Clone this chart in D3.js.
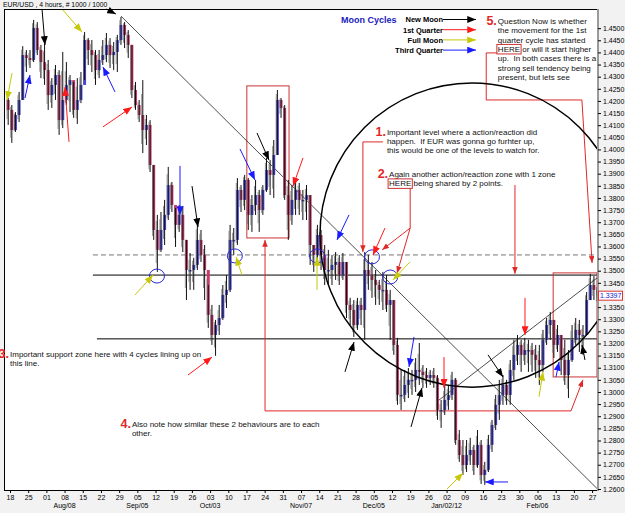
<!DOCTYPE html>
<html>
<head>
<meta charset="utf-8">
<script src="https://cdn.jsdelivr.net/npm/d3@7"></script>
<style>
  html, body { margin: 0; padding: 0; background: #f2f2f2; }
  svg { display: block; font-family: "Liberation Sans", Arial, sans-serif; }
  .note { white-space: pre; }
</style>
</head>
<body>
<div id="chart"></div>
<script>
// EUR/USD read back as one candle per trading day, Fri Jul 15 2011 .. Tue Feb 28 2012
// index 0 = Jul 15, index 1 = Mon Jul 18 (day 0 on the x scale)
const firstOpen = 1.4204

const highs = [1.4212,
  1.4183,1.4154,1.4237,1.4426,1.4410,  1.4410,1.4534,1.4525,1.4431,1.4435,
  1.4369,1.4294,1.4348,1.4327,1.4402,  1.4360,1.4307,1.4278,1.4294,1.4319,
  1.4484,1.4459,1.4451,1.4410,1.4410,  1.4451,1.4480,1.4459,1.4443,1.4472,
  1.4546,1.4525,1.4492,1.4431,1.4278,  1.4204,1.4286,1.4142,1.4121,1.3936,
  1.3730,1.3742,1.3792,1.3928,1.3866,  1.3759,1.3771,1.3767,1.3627,1.3573,
  1.3553,1.3701,1.3668,1.3606,1.3441,  1.3359,1.3297,1.3359,1.3441,1.3482,
  1.3689,1.3676,1.3882,1.3853,1.3895,  1.3882,1.3812,1.3874,1.3833,1.3853,
  1.3965,1.3956,1.4039,1.4245,1.4212,  1.4183,1.3874,1.3853,1.3874,1.3862,
  1.3833,1.3853,1.3812,1.3606,1.3689,  1.3668,1.3606,1.3586,1.3565,1.3577,
  1.3565,1.3573,1.3536,1.3388,1.3379,  1.3388,1.3388,1.3577,1.3565,1.3536,
  1.3503,1.3462,1.3495,1.3482,1.3421,  1.3379,1.3223,1.3091,1.3091,1.3099,
  1.3091,1.3140,1.3202,1.3111,1.3099,  1.3091,1.3099,1.3070,1.2967,1.3029,
  1.3029,1.3083,1.3058,1.2843,1.2802,  1.2802,1.2811,1.2782,1.2843,1.2802,
  1.2712,1.2823,1.2885,1.2988,1.3050,  1.3070,1.3050,1.3132,1.3215,1.3235,
  1.3215,1.3223,1.3215,1.3202,1.3194,  1.3194,1.3256,1.3305,1.3330,1.3297,
  1.3276,1.3235,1.3215,1.3173,1.3276,  1.3305,1.3297,1.3276,1.3412,1.3487,
  1.3478,1.3441]

const lows = [1.4101,
  1.4027,1.4072,1.4113,1.4204,1.4319,  1.4336,1.4360,1.4389,1.4294,1.4266,
  1.4163,1.4171,1.4204,1.4060,1.4088,  1.4183,1.4154,1.4130,1.4105,1.4191,
  1.4286,1.4348,1.4319,1.4266,1.4294,  1.4348,1.4360,1.4336,1.4327,1.4319,
  1.4431,1.4418,1.4377,1.4212,1.4163,  1.4113,1.3985,1.4018,1.3907,1.3627,
  1.3495,1.3577,1.3606,1.3709,1.3742,  1.3598,1.3660,1.3577,1.3379,1.3421,
  1.3421,1.3503,1.3536,1.3379,1.3264,  1.3194,1.3149,1.3235,1.3297,1.3346,
  1.3412,1.3565,1.3606,1.3742,1.3750,  1.3668,1.3660,1.3730,1.3660,1.3730,
  1.3825,1.3812,1.3800,1.3977,1.4130,  1.3792,1.3627,1.3689,1.3730,1.3730,
  1.3709,1.3709,1.3524,1.3495,1.3536,  1.3503,1.3441,1.3441,1.3441,1.3462,
  1.3441,1.3462,1.3305,1.3276,1.3227,  1.3256,1.3276,1.3215,1.3421,1.3388,
  1.3359,1.3359,1.3338,1.3330,1.3215,  1.3153,1.2947,1.2926,1.2959,1.2975,
  1.2988,1.3000,1.3029,1.3017,1.3017,  1.3029,1.3017,1.2885,1.2852,1.2905,
  1.2926,1.2967,1.2782,1.2712,1.2658,  1.2670,1.2699,1.2658,1.2687,1.2621,
  1.2617,1.2670,1.2753,1.2843,1.2885,  1.2947,1.2947,1.2947,1.3050,1.3111,
  1.3083,1.3111,1.3083,1.3083,1.3058,  1.3029,1.3083,1.3194,1.3215,1.3140,
  1.3165,1.3070,1.3029,1.2975,1.3124,  1.3194,1.3165,1.3153,1.3235,1.3379,
  1.3379,1.3359]

const closes = [1.4163,
  1.4080,1.4142,1.4204,1.4389,1.4377,  1.4369,1.4501,1.4410,1.4360,1.4327,
  1.4224,1.4266,1.4307,1.4121,1.4204,  1.4266,1.4286,1.4163,1.4204,1.4266,
  1.4451,1.4410,1.4389,1.4327,1.4369,  1.4389,1.4431,1.4389,1.4402,1.4451,
  1.4513,1.4472,1.4431,1.4245,1.4183,  1.4142,1.4080,1.4101,1.3936,1.3668,
  1.3586,1.3668,1.3730,1.3853,1.3771,  1.3689,1.3730,1.3627,1.3503,1.3503,
  1.3524,1.3627,1.3565,1.3503,1.3318,  1.3235,1.3276,1.3305,1.3400,1.3421,
  1.3627,1.3627,1.3833,1.3792,1.3874,  1.3730,1.3771,1.3812,1.3750,1.3833,
  1.3915,1.3895,1.3977,1.4204,1.4171,  1.3812,1.3730,1.3792,1.3833,1.3792,
  1.3792,1.3812,1.3606,1.3565,1.3647,  1.3565,1.3503,1.3503,1.3524,1.3536,
  1.3482,1.3536,1.3359,1.3338,1.3276,  1.3359,1.3338,1.3503,1.3482,1.3462,
  1.3441,1.3421,1.3421,1.3359,1.3379,  1.3194,1.2988,1.2988,1.3029,1.3050,
  1.3050,1.3091,1.3083,1.3070,1.3058,  1.3070,1.3058,1.2926,1.2926,1.2967,
  1.2988,1.3050,1.2802,1.2740,1.2699,  1.2740,1.2761,1.2699,1.2782,1.2658,
  1.2679,1.2782,1.2864,1.2947,1.2988,  1.3029,1.2988,1.3091,1.3153,1.3194,
  1.3153,1.3173,1.3173,1.3153,1.3132,  1.3111,1.3215,1.3276,1.3297,1.3194,
  1.3235,1.3132,1.3070,1.3132,1.3215,  1.3256,1.3235,1.3235,1.3379,1.3441,
  1.3421,1.3397]

// x axis: one tick per Monday (every 5 trading days)
const weekLabels = ["18","25","01","08","15","22","29","05","12","19","26","03","10","17","24","31",
  "07","14","21","28","05","12","19","26","02","09","16","23","30","06","13","20","27"]
const monthLabels = ["Aug/08","Sep/05","Oct/03","Nov/07","Dec/05","Jan/02/12","Feb/06"]
const monthWeeks = [3, 7, 11, 16, 20, 24, 29]

// horizontal levels [price, first day]
const dashedLevels = [[1.3565, 22.8]]
const solidLevels = [[1.3482, 22.8], [1.3219, 23.9]]
// trend lines [day0, price0, day1, price1]
const trendLines = [[30.5, 1.4550, 161.35, 1.2602], [117.6, 1.2963, 161.35, 1.3470]]
// big cycle circle: centre day, centre price, radius in days, radius in price
const cycleCircle = [127.0, 1.3647, 41.8, 0.0627]
// small blue rings at the touch points
const ringCenters = [[40.4, 1.3478], [61.8, 1.3561], [84.4, 1.3561], [99.5, 1.3557], [104.5, 1.3474]]

// moon phase arrows [day0, price0, day1, price1], arrow head at the second point
const newMoonArrows = [[8.80,1.4579,9.62,1.4431],[26.4,1.4579,29.1,1.4558],[50.03,1.3849,51.68,1.3680],
  [67.89,1.4068,71.19,1.3956],[92.08,1.3083,94.56,1.3206],[110.23,1.2856,113.25,1.3017],
  [131.39,1.3153,135.51,1.3062],[158.05,1.3132,157.23,1.3194]]
const firstQuarterArrows = [[16.22,1.4031,15.12,1.4257],[25.56,1.4093,33.53,1.4175],[48.93,1.3070,55.53,1.3144],
  [80.54,1.3965,77.79,1.3849],[103.08,1.3676,99.78,1.3565],[119.30,1.3144,119.30,1.3017],
  [141.56,1.3388,141.56,1.3235]]
const fullMoonArrows = [[0.55,1.4315,-0.82,1.4204],[14.29,1.4579,19.79,1.4484],[34.36,1.3400,39.31,1.3482],
  [63.77,1.3482,62.12,1.3557],[84.39,1.3421,84.39,1.3557],[109.95,1.3536,105.28,1.3462],
  [120.12,1.2600,124.52,1.2666],[145.41,1.2980,146.51,1.3083]]
const thirdQuarterArrows = [[4.12,1.4212,5.50,1.4307],[28.86,1.4237,25.56,1.4340],[46.73,1.3932,46.73,1.3730],
  [63.22,1.4002,67.34,1.3874],[93.18,1.3730,89.88,1.3627],[111.05,1.3227,109.68,1.3103],
  [136.89,1.2629,130.57,1.2629],[150.08,1.3062,150.91,1.3124]]

// red boxes [day0, day1, priceTop, priceBottom]
const redBoxes = [[65.1, 76.7, 1.4262, 1.3635], [149.3, 161.35, 1.3491, 1.3062]]
// red connectors (arrow head at the last point)
const connectors = [
  [[133.9,1.4398],[130.9,1.4398],[130.9,1.4204],[157.2,1.4204],[160.0,1.3532]],
  [[102.5,1.4031],[97.0,1.4031],[97.0,1.3577]],
  [[110.0,1.3841],[110.0,1.3676],[102.3,1.3586]],
  [[110.0,1.3676],[106.4,1.3490]],
  [[138.8,1.3853],[138.8,1.3487]],
  [[70.1,1.2922],[70.1,1.3627]],
  [[70.1,1.2922],[154.2,1.2922],[157.5,1.3050]]
]

// notes: number, anchor [day, price of first baseline], lines
const noteNumbers = ["1.", "2.", "3.", "4.", "5."]
const noteAnchors = [[103.6, 1.4060], [104.2, 1.3886], [0, 1.3144], [33.5, 1.2856], [134.1, 1.4517]]
const noteLines = [
  ["Important level where a action/reaction did", "happen.  If EUR was gonna go furhter up,", "this would be one of the levels to watch for."],
  ["Again another action/reaction zone with 1 zone", "HERE being shared by 2 points."],
  ["Important support zone here with 4 cycles lining up on", "this line."],
  ["Also note how similar these 2 behaviours are to each", "other."],
  ["Question Now is whether", "the movement for the 1st", "quarter cycle has started", "HERE or will it start higher",
   "up.  In both cases there is a", "strong sell tendency being", "present, but lets see"]
]

const legendNames = ["New Moon", "1st Quarter", "Full Moon", "Third Quarter"]
const legendKeys = ["black", "red", "yellow", "blue"]

const W = 625, H = 513
const plot = { left: 4, top: 9, right: 597, bottom: 490 }
const colors = { black: "#000", red: "#ff1a1a", yellow: "#c8c80a", blue: "#1a1aff", note: "#e02828" }

const svg = d3.select("#chart").append("svg").attr("width", W).attr("height", H)
const defs = svg.append("defs")

defs.append("clipPath").attr("id", "plotClip").append("rect")
  .attr("x", plot.left).attr("y", plot.top)
  .attr("width", plot.right - plot.left).attr("height", plot.bottom - plot.top)

Object.entries(colors).forEach(([k, c]) => {
  const small = k === "note"
  defs.append("marker").attr("id", "ah-" + k)
    .attr("viewBox", "0 0 10 8").attr("refX", 10).attr("refY", 4)
    .attr("markerWidth", small ? 7 : 9).attr("markerHeight", small ? 5.5 : 7)
    .attr("markerUnits", "userSpaceOnUse").attr("orient", "auto")
    .append("path").attr("d", "M0,0L10,4L0,8Z").attr("fill", c)
})

svg.append("rect").attr("width", W).attr("height", H).attr("fill", "#f2f2f2")
svg.append("rect").attr("x", plot.left).attr("y", plot.top)
  .attr("width", plot.right - plot.left).attr("height", plot.bottom - plot.top)
  .attr("fill", "#fff")

const x = d3.scaleLinear().domain([-1.65, 161.35]).range([plot.left, plot.right])
const y = d3.scaleLinear().domain([1.26, 1.4579]).range([489, plot.top])

const inner = svg.append("g").attr("clip-path", "url(#plotClip)")

// levels
inner.selectAll("line.dashed").data(dashedLevels).join("line")
  .attr("x1", d => x(d[1])).attr("x2", plot.right)
  .attr("y1", d => y(d[0])).attr("y2", d => y(d[0]))
  .attr("stroke", "#777").attr("stroke-dasharray", "5,3")
inner.selectAll("line.solid").data(solidLevels).join("line")
  .attr("x1", d => x(d[1])).attr("x2", plot.right)
  .attr("y1", d => y(d[0])).attr("y2", d => y(d[0]))
  .attr("stroke", "#000")

// red boxes and connectors
inner.selectAll("rect.box").data(redBoxes).join("rect")
  .attr("x", d => x(d[0])).attr("y", d => y(d[2]))
  .attr("width", d => x(d[1]) - x(d[0])).attr("height", d => y(d[3]) - y(d[2]))
  .attr("fill", "none").attr("stroke", "#cc3333")

const line = d3.line().x(d => x(d[0])).y(d => y(d[1]))
inner.selectAll("path.conn").data(connectors).join("path")
  .attr("d", line).attr("fill", "none").attr("stroke", colors.note)
  .attr("marker-end", "url(#ah-note)")

// trend lines
inner.selectAll("line.trend").data(trendLines).join("line")
  .attr("x1", d => x(d[0])).attr("y1", d => y(d[1]))
  .attr("x2", d => x(d[2])).attr("y2", d => y(d[3]))
  .attr("stroke", "#222").attr("stroke-width", 0.8)

// candles
const candles = highs.map((h, i) => ({
  day: i - 1,
  open: i === 0 ? firstOpen : closes[i - 1],
  high: h, low: lows[i], close: closes[i]
}))
const step = x(1) - x(0)
const bodyW = step * 0.82

inner.selectAll("rect.body").data(candles).join("rect")
  .attr("x", d => x(d.day + 0.5) - bodyW / 2).attr("width", bodyW)
  .attr("y", d => y(Math.max(d.open, d.close)))
  .attr("height", d => Math.max(1.5, Math.abs(y(d.open) - y(d.close))))
  .attr("fill", d => d.close >= d.open ? "#4646d8" : "#c83a6a")
// the high-low ranges, slightly offset so that each day reads as a dense cluster of bars
inner.selectAll("line.wick").data(candles).join("line")
  .attr("x1", d => x(d.day + 0.5)).attr("x2", d => x(d.day + 0.5))
  .attr("y1", d => y(d.high)).attr("y2", d => y(d.low))
  .attr("stroke", "#111").attr("stroke-width", 1)
inner.selectAll("line.wick2").data(candles).join("line")
  .attr("x1", d => x(d.day + 0.5) - step * 0.3).attr("x2", d => x(d.day + 0.5) - step * 0.3)
  .attr("y1", d => y(Math.max(d.open, d.close) + (d.high - Math.max(d.open, d.close)) * 0.6))
  .attr("y2", d => y(Math.min(d.open, d.close) - (Math.min(d.open, d.close) - d.low) * 0.6))
  .attr("stroke", "#666").attr("stroke-width", 0.7)

// cycle circle and rings
inner.append("ellipse")
  .attr("cx", x(cycleCircle[0])).attr("cy", y(cycleCircle[1]))
  .attr("rx", x(cycleCircle[2]) - x(0)).attr("ry", y(1.3) - y(1.3 + cycleCircle[3]))
  .attr("fill", "none").attr("stroke", "#000").attr("stroke-width", 1.5)
inner.selectAll("ellipse.ring").data(ringCenters).join("ellipse")
  .attr("cx", d => x(d[0])).attr("cy", d => y(d[1]))
  .attr("rx", 7.5).attr("ry", 7)
  .attr("fill", "none").attr("stroke", "#2a2ad8")

// moon arrows
const arrowSets = [[newMoonArrows, "black"], [firstQuarterArrows, "red"], [fullMoonArrows, "yellow"], [thirdQuarterArrows, "blue"]]
arrowSets.forEach(([set, key]) => {
  svg.append("g").selectAll("line").data(set).join("line")
    .attr("x1", d => x(d[0])).attr("y1", d => y(d[1]))
    .attr("x2", d => x(d[2])).attr("y2", d => y(d[3]))
    .attr("stroke", colors[key]).attr("stroke-width", 1)
    .attr("marker-end", `url(#ah-${key})`)
})

// frame
svg.append("rect").attr("x", plot.left + 0.5).attr("y", plot.top + 0.5)
  .attr("width", plot.right - plot.left).attr("height", plot.bottom - plot.top)
  .attr("fill", "none").attr("stroke", "#000")
svg.append("line").attr("x1", plot.right + 1).attr("x2", plot.right + 1)
  .attr("y1", plot.top).attr("y2", plot.bottom + 1)
  .attr("stroke", "#9a9a9a").attr("stroke-width", 2)

// right axis; the tick label under the last-price tag is covered, as in the original
const lastClose = closes[closes.length - 1]
const yTicks = d3.range(0, 39).map(i => 1.26 + i * 0.005)
  .filter(v => Math.abs(y(v) - y(lastClose)) > 7)
const yAxis = svg.append("g").attr("transform", `translate(${plot.right + 1},0)`)
  .call(d3.axisRight(y).tickValues(yTicks).tickFormat(d3.format(".4f")).tickSize(3).tickPadding(2))
yAxis.select(".domain").remove()
yAxis.selectAll("text").attr("font-size", 7).attr("fill", "#000").attr("font-family", null)

// bottom axis
const weekDays = weekLabels.map((_, i) => i * 5)
const xAxis = svg.append("g").attr("transform", `translate(0,${plot.bottom})`)
  .call(d3.axisBottom(x).tickValues(weekDays).tickFormat((d, i) => weekLabels[i]).tickSize(3).tickPadding(2))
xAxis.select(".domain").remove()
xAxis.selectAll("text").attr("font-size", 7).attr("fill", "#000").attr("font-family", null)
svg.append("g").selectAll("text").data(monthLabels).join("text")
  .attr("x", (d, i) => x(monthWeeks[i] * 5)).attr("y", 508)
  .attr("text-anchor", "middle").attr("font-size", 7).text(d => d)

// title
svg.append("text").attr("x", 3).attr("y", 7).attr("font-size", 6.8).text("EUR/USD , 4 hours, # 1000 / 1000")

// last price tag
svg.append("rect").attr("x", plot.right + 1.5).attr("y", y(lastClose) - 4.5)
  .attr("width", 24).attr("height", 9).attr("fill", "#fff").attr("stroke", "#dd3333")
svg.append("text").attr("x", plot.right + 3).attr("y", y(lastClose) + 2.5)
  .attr("font-size", 7).attr("fill", "#2020d0").text(d3.format(".4f")(lastClose))

// notes
const lineH = 9.3
noteLines.forEach((lines, k) => {
  const tx = x(noteAnchors[k][0]), ty = y(noteAnchors[k][1])
  svg.append("text").attr("x", tx - 1).attr("y", ty + 1).attr("text-anchor", "end")
    .attr("font-size", 12.5).attr("font-weight", "bold").attr("fill", colors.note)
    .text(noteNumbers[k])
  lines.forEach((s, j) => {
    const t = svg.append("text").attr("class", "note")
      .attr("x", tx).attr("y", ty + j * lineH).attr("font-size", 8).attr("fill", "#111").text(s)
    if (s.startsWith("HERE")) {
      const len = t.node().getSubStringLength(0, 4)
      svg.append("rect").attr("x", tx - 1).attr("y", ty + j * lineH - 7.5)
        .attr("width", len + 2).attr("height", 9.5)
        .attr("fill", "none").attr("stroke", "#cc3333")
    }
  })
})

// legend
svg.append("text").attr("x", 341).attr("y", 22.5).attr("font-size", 9).attr("font-weight", "bold")
  .attr("fill", "#2020c0").text("Moon Cycles")
const legend = svg.append("g")
legendNames.forEach((name, i) => {
  const ly = 19.5 + i * 10.2
  legend.append("text").attr("x", 443).attr("y", ly + 2.8).attr("text-anchor", "end")
    .attr("font-size", 7.5).attr("font-weight", "bold").text(name)
  legend.append("line").attr("x1", 443).attr("x2", 476).attr("y1", ly).attr("y2", ly)
    .attr("stroke", colors[legendKeys[i]]).attr("marker-end", `url(#ah-${legendKeys[i]})`)
})
</script>
</body>
</html>
